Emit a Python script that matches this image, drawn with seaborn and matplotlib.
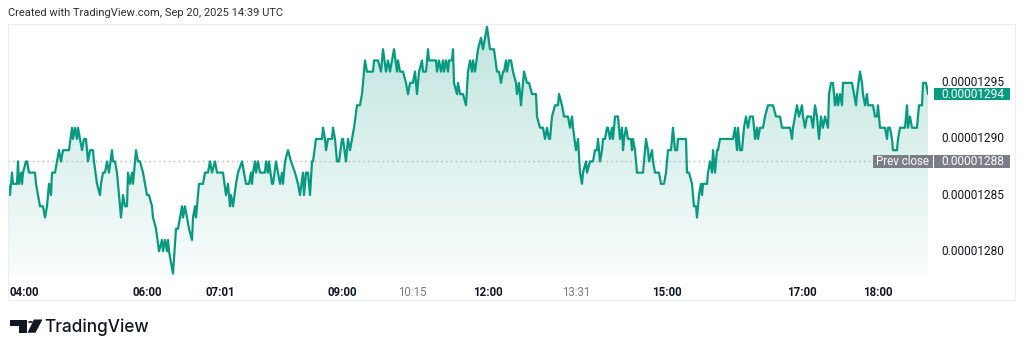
import numpy as np
import pandas as pd
import matplotlib
matplotlib.use("Agg")
import matplotlib.pyplot as plt
import seaborn as sns
from matplotlib.patches import Rectangle, Polygon, Circle, PathPatch

# ---------------- data ----------------
# bar index along the (gapped) time axis and close price in units of 1e-8
bar_index = [
    0, 2, 4, 5, 9, 10, 11, 13, 14, 15,
    18, 19, 21, 27, 28, 30, 32, 35, 37, 39,
    41, 43, 44, 47, 49, 51, 53, 55, 61, 64,
    65, 67, 69, 70, 72, 74, 76, 78, 79, 80,
    82, 85, 86, 89, 92, 93, 95, 97, 99, 101,
    104, 105, 107, 109, 113, 115, 117, 119, 120, 122,
    124, 125, 128, 130, 132, 135, 139, 141, 144, 145,
    148, 151, 154, 155, 157, 159, 160, 161, 165, 168,
    170, 174, 175, 177, 181, 184, 185, 187, 188, 191,
    195, 197, 200, 202, 204, 207, 209, 215, 218, 220,
    222, 223, 225, 228, 230, 234, 238, 241, 243, 244,
    245, 247, 248, 250, 252, 257, 258, 260, 261, 264,
    265, 268, 272, 274, 275, 277, 280, 283, 287, 290,
    292, 295, 296, 298, 300, 302, 304, 305, 308, 312,
    314, 315, 317, 318, 320, 324, 325, 327, 329, 331,
    334, 335, 338, 340, 342, 344, 346, 349, 352, 354,
    357, 359, 365, 366, 370, 373, 375, 378, 380, 382,
    384, 386, 389, 390, 392, 395, 398, 400, 402, 405,
    407, 409, 411, 414, 415, 418, 420, 421, 428, 429,
    431, 433, 435, 436, 438, 440, 441, 444, 445, 446,
    449, 450, 452, 455, 458, 460, 462, 464, 465, 467,
    470, 473, 475, 477, 479, 482, 486, 489, 491, 493,
    495, 496, 498, 499, 501, 503, 505, 508, 509, 511,
    513, 516, 519, 521, 524, 528, 529, 532, 535, 537,
    539, 541, 542, 544, 547, 550, 551, 554, 556, 560,
    562, 564, 565, 568, 570, 572, 574, 575, 578, 579,
    582, 585, 587, 589, 590, 592, 594, 595, 597, 599,
    600, 602, 604, 605, 607, 610,
    612, 614, 615, 616, 618, 620, 623, 624, 625, 627,
    629, 635, 638, 640, 641, 644, 645, 647, 651, 653,
    656, 658, 660, 663, 665, 667, 669, 670, 678, 679,
    681, 684, 686, 688, 689, 691, 693, 694, 695, 699,
    700, 702, 704, 705, 707, 709, 710, 712, 725, 727,
    729, 730, 732, 734, 736, 738, 740, 742, 745, 747,
    749, 750, 752, 755, 757, 760, 765, 768, 772, 774,
    782, 784, 785, 787, 789, 791, 794, 795, 797, 799,
    803, 805, 807, 809, 810, 811, 813, 815, 817, 820,
    821, 823, 825, 827, 829, 830, 832, 834, 835, 844,
    846, 848, 849, 852, 854, 855, 857, 859, 860, 865,
    867, 869, 870, 872, 877, 879, 880, 882, 884, 885,
    889, 890, 892, 897, 899, 900, 902, 904, 909, 911,
    914, 915, 918, 920,
]
price_e8 = [
    1286, 1285, 1287, 1286, 1286, 1288, 1286, 1287, 1286, 1287,
    1288, 1288, 1287, 1287, 1286, 1285, 1284, 1284, 1283, 1284,
    1286, 1285, 1287, 1287, 1288, 1289, 1288, 1289, 1289, 1291,
    1290, 1291, 1290, 1291, 1290, 1289, 1290, 1290, 1289, 1288,
    1289, 1289, 1288, 1286, 1285, 1286, 1287, 1287, 1288, 1287,
    1289, 1288, 1288, 1287, 1283, 1285, 1284, 1284, 1287, 1286,
    1287, 1286, 1289, 1288, 1288, 1287, 1285, 1285, 1284, 1283,
    1282, 1280, 1281, 1280, 1281, 1280, 1281, 1280, 1278, 1282,
    1282, 1284, 1283, 1284, 1282, 1281, 1283, 1284, 1283, 1286,
    1286, 1287, 1287, 1288, 1287, 1288, 1287, 1287, 1285, 1286,
    1284, 1285, 1284, 1286, 1287, 1288, 1286, 1286, 1287, 1286,
    1287, 1288, 1287, 1288, 1287, 1287, 1288, 1287, 1288, 1286,
    1286, 1288, 1286, 1287, 1286, 1288, 1289, 1288, 1287, 1286,
    1285, 1287, 1285, 1287, 1287, 1285, 1288, 1288, 1290, 1290,
    1290, 1291, 1290, 1289, 1290, 1290, 1291, 1290, 1288, 1288,
    1290, 1290, 1288, 1290, 1289, 1290, 1291, 1293, 1293, 1294,
    1297, 1296, 1296, 1297, 1297, 1296, 1298, 1296, 1297, 1296,
    1297, 1298, 1296, 1297, 1296, 1296, 1295, 1294, 1295, 1295,
    1296, 1294, 1296, 1297, 1296, 1296, 1298, 1297, 1297, 1296,
    1297, 1296, 1297, 1296, 1297, 1296, 1297, 1297, 1298, 1295,
    1294, 1295, 1294, 1294, 1293, 1296, 1297, 1296, 1297, 1296,
    1298, 1299, 1298, 1299, 1300, 1298, 1298, 1296, 1296, 1295,
    1296, 1296, 1297, 1296, 1297, 1297, 1296, 1295, 1294, 1295,
    1293, 1296, 1295, 1295, 1294, 1294, 1292, 1291, 1291, 1290,
    1291, 1290, 1290, 1292, 1293, 1293, 1294, 1293, 1292, 1292,
    1291, 1292, 1291, 1289, 1290, 1287, 1286, 1287, 1288, 1287,
    1288, 1288, 1289, 1289, 1290, 1288, 1289, 1290, 1290, 1291,
    1291, 1290, 1291, 1290, 1292, 1292,
    1290, 1291, 1289, 1290, 1291, 1290, 1290, 1289, 1290, 1289,
    1287, 1287, 1290, 1289, 1288, 1289, 1288, 1287, 1287, 1286,
    1286, 1287, 1289, 1289, 1291, 1289, 1289, 1290, 1290, 1287,
    1287, 1286, 1284, 1284, 1283, 1285, 1286, 1285, 1286, 1286,
    1287, 1288, 1287, 1289, 1287, 1289, 1289, 1290, 1290, 1291,
    1289, 1291, 1289, 1289, 1291, 1292, 1291, 1292, 1292, 1290,
    1291, 1290, 1291, 1291, 1292, 1293, 1293, 1292, 1292, 1291,
    1291, 1290, 1291, 1292, 1293, 1292, 1293, 1292, 1291, 1292,
    1292, 1291, 1293, 1292, 1291, 1290, 1292, 1291, 1292, 1291,
    1294, 1295, 1295, 1293, 1294, 1293, 1294, 1293, 1295, 1295,
    1294, 1293, 1294, 1296, 1295, 1294, 1293, 1294, 1293, 1293,
    1292, 1292, 1293, 1291, 1291, 1290, 1291, 1291, 1290, 1289,
    1289, 1290, 1291, 1291, 1293, 1291, 1292, 1291, 1291, 1293,
    1293, 1295, 1295, 1294,
]
prev_close_e8 = 1288
price_ticks_e8 = [1280, 1285, 1290, 1295]
time_tick_bars = [16, 139, 212, 334, 404, 480, 568, 659, 794, 870]
time_tick_labels = ["04:00", "06:00", "07:01", "09:00", "10:15",
                    "12:00", "13:31", "15:00", "17:00", "18:00"]
header = "Created with TradingView.com, Sep 20, 2025 14:39 UTC"

# ---------------- style ----------------
sns.set_theme(style="white")
plt.rcParams['font.family'] = ['Roboto', 'DejaVu Sans']
TEAL = '#089981'
DARK = '#131722'
GRAY_TXT = '#787b86'
BADGE_GRAY = '#7b7e88'
minor_labels = {"10:15", "13:31"}

W, H = 1024, 353
fig = plt.figure(figsize=(W / 100, H / 100), dpi=100)
fig.patch.set_facecolor('white')

def fx(px):
    return px / W

def fy(py):
    return 1 - py / H

PX_PER_UNIT = 11.22     # vertical pixels per 1e-8
AX_L, AX_R, AX_T, AX_B = 8, 928, 24, 276
ax = fig.add_axes([fx(AX_L), fy(AX_B), fx(AX_R) - fx(AX_L), fy(AX_T) - fy(AX_B)])

df = pd.DataFrame({"bar": bar_index, "price": np.array(price_e8, dtype=float) * 1e-8})
prev_close = prev_close_e8 * 1e-8
y_top = (prev_close_e8 + (161.4 - AX_T) / PX_PER_UNIT) * 1e-8
y_bot = (prev_close_e8 - (AX_B - 161.4) / PX_PER_UNIT) * 1e-8
x_max = df["bar"].max()

# gradient area under the line
n = 256
alpha = np.linspace(0.26, 0.025, n)
rgba = np.zeros((n, 1, 4))
rgba[..., :3] = matplotlib.colors.to_rgb(TEAL)
rgba[..., 3] = alpha[:, None]
im = ax.imshow(rgba, extent=[0, x_max, y_bot, y_top], aspect='auto',
               origin='upper', zorder=1, interpolation='bilinear')
fb = ax.fill_between(df["bar"], df["price"], y_bot, color='none', linewidth=0)
clip = PathPatch(fb.get_paths()[0], transform=ax.transData,
                 facecolor='none', edgecolor='none')
ax.add_patch(clip)
im.set_clip_path(clip)

# price line
sns.lineplot(data=df, x="bar", y="price", ax=ax, color=TEAL, linewidth=1.6,
             estimator=None, zorder=3)

# previous close dotted line
ax.axhline(prev_close, xmin=0, xmax=(872 - AX_L) / (AX_R - AX_L),
           color='#b2b5be', linewidth=1.0, linestyle=(0, (1, 2.5)), zorder=2)

ax.set_xlim(0, AX_R - AX_L)
ax.set_ylim(y_bot, y_top)
for s in ax.spines.values():
    s.set_visible(False)
ax.set_xlabel("")
ax.set_ylabel("")
ax.set_yticks([])

# time axis
ax.set_xticks(time_tick_bars)
ax.set_xticklabels(time_tick_labels)
ax.tick_params(axis='x', length=0, pad=7.5, labelsize=8.3)
for lab in ax.get_xticklabels():
    if lab.get_text() in minor_labels:
        lab.set_color(GRAY_TXT)
        lab.set_fontweight('normal')
    else:
        lab.set_color(DARK)
        lab.set_fontweight('bold')

# price scale labels
ytr = ax.get_yaxis_transform()
xc = (973 - AX_L) / (AX_R - AX_L)
for v in price_ticks_e8:
    ax.text(xc, v * 1e-8, f"{v * 1e-8:.8f}", transform=ytr, ha='center',
            va='center', fontsize=8.6, color=DARK, clip_on=False, zorder=4)

# last price badge
last = price_e8[-1]
bx0 = (934 - AX_L) / (AX_R - AX_L)
bw = (1010 - 934) / (AX_R - AX_L)
bh = 12.6 / PX_PER_UNIT * 1e-8
ax.add_patch(Rectangle((bx0, last * 1e-8 - bh / 2), bw, bh, transform=ytr,
                       facecolor=TEAL, edgecolor='none', clip_on=False, zorder=6))
ax.text(xc, last * 1e-8, f"{last * 1e-8:.8f}", transform=ytr, ha='center',
        va='center', fontsize=8.6, color='white', clip_on=False, zorder=7)

# prev close badges
ph = 13.3 / PX_PER_UNIT * 1e-8
px0 = (873 - AX_L) / (AX_R - AX_L)
pw = (933 - 873) / (AX_R - AX_L)
ax.add_patch(Rectangle((px0, prev_close - ph / 2), pw, ph, transform=ytr,
                       facecolor=BADGE_GRAY, edgecolor='none', clip_on=False, zorder=6))
ax.text(px0 + pw / 2, prev_close, "Prev close", transform=ytr, ha='center',
        va='center', fontsize=8.3, color='white', clip_on=False, zorder=7)
ax.add_patch(Rectangle((bx0, prev_close - ph / 2), bw, ph, transform=ytr,
                       facecolor=BADGE_GRAY, edgecolor='none', clip_on=False, zorder=6))
ax.text(xc, prev_close, f"{prev_close:.8f}", transform=ytr, ha='center',
        va='center', fontsize=8.6, color='white', clip_on=False, zorder=7)

# outer frame
fig.add_artist(Rectangle((fx(8), fy(300)), fx(1015) - fx(8), fy(24) - fy(300),
                         transform=fig.transFigure, fill=False,
                         edgecolor='#eceef3', linewidth=0.8))

# header
fig.text(fx(8), fy(12.5), header, ha='left', va='center', fontsize=8.0, color='#2a2e39')

# TradingView logo
def pts(lst):
    return [(fx(a), fy(b)) for a, b in lst]

fig.add_artist(Polygon(pts([(10, 319.5), (26.5, 319.5), (26.5, 332.7), (18.5, 332.7),
                            (18.5, 325.5), (10, 325.5)]),
                       closed=True, transform=fig.transFigure, facecolor='#131722',
                       edgecolor='none'))
fig.add_artist(Circle((fx(30.5), fy(322)), radius=fx(2.6), transform=fig.transFigure,
                      facecolor='#131722', edgecolor='none'))
fig.add_artist(Polygon(pts([(34, 319.5), (42.5, 319.5), (35.5, 332.7), (27.5, 332.7)]),
                       closed=True, transform=fig.transFigure, facecolor='#131722',
                       edgecolor='none'))
fig.text(fx(44), fy(332), "TradingView", ha='left', va='baseline', fontsize=12.4,
         fontweight='medium', color='#131722', family=['Inter', 'DejaVu Sans'])

fig.savefig("out.png", dpi=100, facecolor='white')
